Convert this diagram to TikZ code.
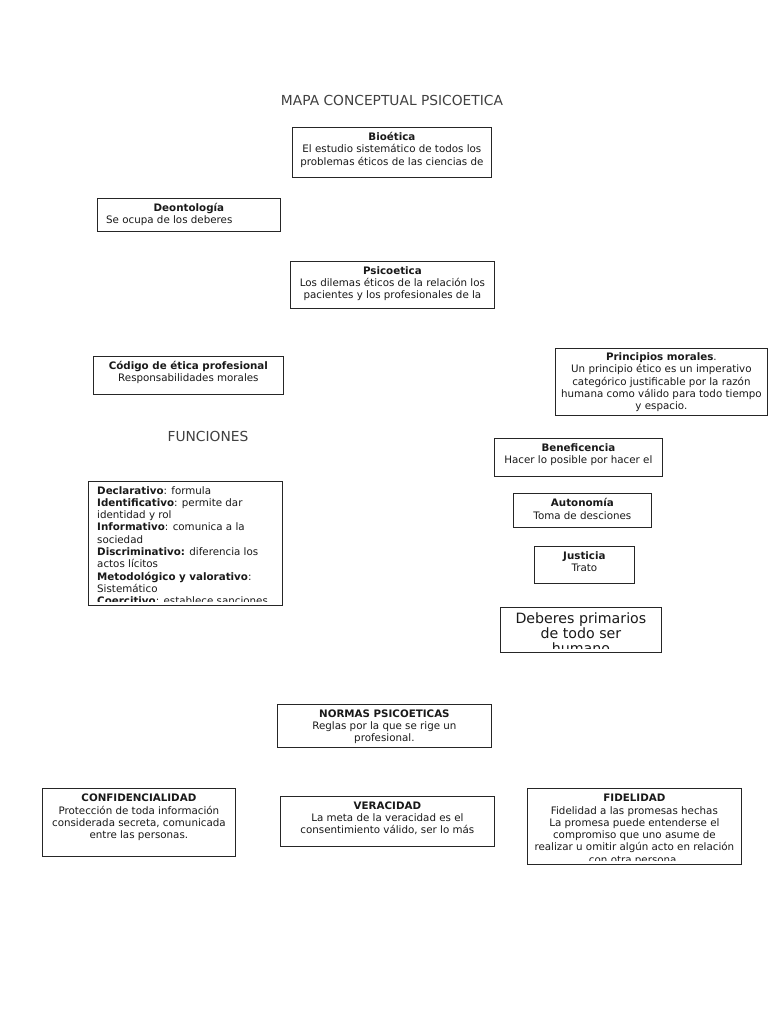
\documentclass[tikz,border=0pt]{standalone}
\usepackage{fontspec}
\setmainfont{DejaVu Sans}
\newcommand\fs{\fontsize{10.3}{12.3}\selectfont}
\newcommand\fsbig{\fontsize{14.2}{15}\selectfont}
\tikzset{
  box/.style={draw=black!85, line width=0.8pt, anchor=north west, inner sep=0pt},
  txt/.style={anchor=north, inner sep=0pt, align=center, font=\fs, text=black!90},
  ltxt/.style={anchor=north west, inner sep=0pt, align=left, font=\fs, text=black!90},
  head/.style={inner sep=0pt, font=\fontsize{13.8}{15}\selectfont, text=black!75},
}
\begin{document}
\begin{tikzpicture}[x=1pt,y=-1pt]
\useasboundingbox[fill=white] (0,0) rectangle (768,1024);

% titles
\node[head] (title) at (392,100) {MAPA CONCEPTUAL PSICOETICA};
\node[head] (fun) at (208,436) {FUNCIONES};

% Bioetica
\node[box, minimum width=199pt, minimum height=50pt] (bio) at (292,127) {};
\node[txt] (bio-t) at ([yshift=-5pt]bio.north) {\textbf{Bioética}\\El estudio sistemático de todos los\\problemas éticos de las ciencias de};

% Deontologia
\node[box, minimum width=183pt, minimum height=33pt] (deo) at (97,198) {};
\node[txt] (deo-t) at ([yshift=-5pt]deo.north) {\textbf{Deontología}};
\node[ltxt] (deo-b) at ([xshift=9pt,yshift=-17.3pt]deo.north west) {Se ocupa de los deberes};

% Psicoetica
\node[box, minimum width=204pt, minimum height=47pt] (psi) at (290,261) {};
\node[txt] (psi-t) at ([yshift=-5pt]psi.north) {\textbf{Psicoetica}\\Los dilemas éticos de la relación los\\pacientes y los profesionales de la};

% Codigo
\node[box, minimum width=190pt, minimum height=38pt] (cod) at (93,356) {};
\node[txt] (cod-t) at ([yshift=-5pt]cod.north) {\textbf{Código de ética profesional}\\Responsabilidades morales};

% Principios morales
\node[box, minimum width=212pt, minimum height=67pt] (pri) at (555,348) {};
\node[txt] (pri-t) at ([yshift=-4.5pt]pri.north) {\textbf{Principios morales}.\\Un principio ético es un imperativo\\categórico justificable por la razón\\humana como válido para todo tiempo\\y espacio.};

% Funciones
\node[box, minimum width=194pt, minimum height=124pt] (fbox) at (88,481) {};
\begin{scope}
\clip ([yshift=4.5pt]fbox.south west) rectangle (fbox.north east);
\node[ltxt] (fbox-t) at ([xshift=9pt,yshift=-5pt]fbox.north west) {\textbf{Declarativo}: formula\\\textbf{Identificativo}: permite dar\\identidad y rol\\\textbf{Informativo}: comunica a la\\sociedad\\\textbf{Discriminativo:} diferencia los\\actos lícitos\\\textbf{Metodológico y valorativo}:\\Sistemático\\\textbf{Coercitivo}: establece sanciones};
\end{scope}

% Beneficencia
\node[box, minimum width=168pt, minimum height=38pt] (ben) at (494,438) {};
\node[txt] (ben-t) at ([yshift=-5.5pt]ben.north) {\textbf{Beneficencia}\\Hacer lo posible por hacer el};

% Autonomia
\node[box, minimum width=138pt, minimum height=34pt] (aut) at (513,493) {};
\node[txt] (aut-t) at ([yshift=-5.5pt]aut.north) {\textbf{Autonomía}\\Toma de desciones};

% Justicia
\node[box, minimum width=100pt, minimum height=37pt] (jus) at (534,546) {};
\node[txt] (jus-t) at ([yshift=-5.5pt]jus.north) {\textbf{Justicia}\\Trato};

% Deberes
\node[box, minimum width=161pt, minimum height=45pt] (deb) at (500,607) {};
\begin{scope}
\clip ([yshift=4pt]deb.south west) rectangle (deb.north east);
\node[txt, font=\fsbig] (deb-t) at ([yshift=-6pt]deb.north) {Deberes primarios\\de todo ser\\humano};
\end{scope}

% Normas
\node[box, minimum width=214pt, minimum height=43pt] (nor) at (277,704) {};
\begin{scope}
\clip ([yshift=3.5pt]nor.south west) rectangle (nor.north east);
\node[txt] (nor-t) at ([yshift=-5.5pt]nor.north) {\textbf{NORMAS PSICOETICAS}\\Reglas por la que se rige un\\profesional.};
\end{scope}

% Confidencialidad
\node[box, minimum width=193pt, minimum height=68pt] (con) at (42,788) {};
\node[txt] (con-t) at ([yshift=-6pt]con.north) {\textbf{CONFIDENCIALIDAD}\\Protección de toda información\\considerada secreta, comunicada\\entre las personas.};

% Veracidad
\node[box, minimum width=214pt, minimum height=50pt] (ver) at (280,796) {};
\node[txt] (ver-t) at ([yshift=-5.5pt]ver.north) {\textbf{VERACIDAD}\\La meta de la veracidad es el\\consentimiento válido, ser lo más};

% Fidelidad
\node[box, minimum width=214pt, minimum height=76pt] (fid) at (527,788) {};
\begin{scope}
\clip ([yshift=4.5pt]fid.south west) rectangle (fid.north east);
\node[txt] (fid-t) at ([yshift=-6pt]fid.north) {\textbf{FIDELIDAD}\\Fidelidad a las promesas hechas\\La promesa puede entenderse el\\compromiso que uno asume de\\realizar u omitir algún acto en relación\\con otra persona.};
\end{scope}
\end{tikzpicture}
\end{document}
